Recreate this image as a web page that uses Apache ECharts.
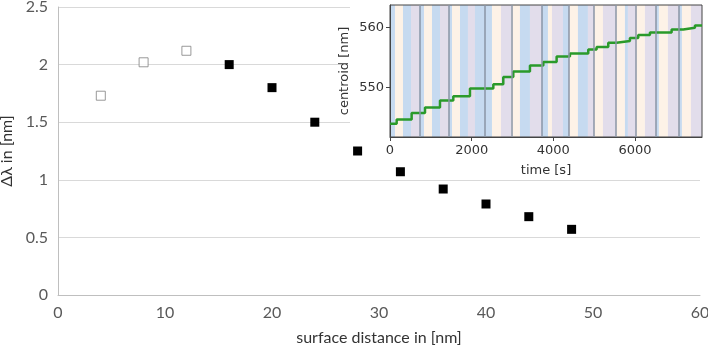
<!DOCTYPE html>
<html>
<head>
<meta charset="utf-8">
<script src="https://cdn.jsdelivr.net/npm/echarts@6/dist/echarts.min.js"></script>
<style>
  html, body { margin: 0; padding: 0; background: #fff; }
  #chart { width: 708px; height: 350px; }
</style>
</head>
<body>
<div id="chart"></div>
<script>
// main plot: shift vs distance
var openDist = [4, 8, 12];
var openShift = [1.73, 2.02, 2.12];
var fullDist = [16, 20, 24, 28, 32, 36, 40, 44, 48];
var fullShift = [2.0, 1.8, 1.5, 1.25, 1.07, 0.92, 0.79, 0.68, 0.57];

// inset: centroid over time (stepped)
var stepTime = [0, 163, 530, 857, 1224, 1550, 1958, 2530, 2774, 3019, 3427, 3754, 4080,
  4406, 4855, 5059, 5345, 5549, 5875, 6079, 6365, 6896, 7181, 7467, 7640];
var stepCentroid = [543.9, 544.6, 545.7, 546.6, 547.8, 548.5, 549.8, 550.5, 551.7, 552.6,
  553.6, 554.2, 555.1, 555.6, 556.3, 556.7, 557.4, 557.7, 558.2, 558.7, 559.1, 559.6,
  559.9, 560.3, 560.4];

// inset background bands (b = blue, p = peach, l = lavender)
var bandStart = [0, 122, 318, 514, 722, 832, 1028, 1224, 1444, 1518, 1714, 1909, 2081,
  2326, 2497, 2717, 2974, 3182, 3427, 3709, 3868, 3966, 4235, 4382, 4602, 4847, 4994,
  5215, 5532, 5753, 5826, 6022, 6242, 6512, 6585, 6805, 7075, 7149, 7369];
var bandEnd = [122, 318, 514, 722, 832, 1028, 1224, 1444, 1518, 1714, 1909, 2081, 2326,
  2497, 2717, 2974, 3182, 3427, 3709, 3868, 3966, 4235, 4382, 4602, 4847, 4994, 5215,
  5532, 5753, 5826, 6022, 6242, 6512, 6585, 6805, 7075, 7149, 7369, 7640];
var bandKind = ['b', 'p', 'b', 'l', 'b', 'p', 'b', 'l', 'b', 'p', 'b', 'l', 'b',
  'b', 'p', 'l', 'p', 'b', 'l', 'b', 'p', 'l', 'b', 'p', 'b', 'l', 'p',
  'l', 'p', 'b', 'l', 'p', 'l', 'b', 'p', 'l', 'b', 'p', 'l'];
var cycleLines = [722, 1444, 2326, 2974, 3709, 4382, 4994, 5532, 6022, 6512, 7075];

var xTicks = [0, 2000, 4000, 6000];
var yTicks = [550, 560];

var bandColors = { b: '#c6daf0', p: '#fdf2e7', l: '#e2ddeb' };

var chart = echarts.init(document.getElementById('chart'));

var bands = bandStart.map(function (s, i) {
  return [{ xAxis: s, itemStyle: { color: bandColors[bandKind[i]] } }, { xAxis: bandEnd[i] }];
});

var option = {
  animation: false,
  textStyle: { fontFamily: 'Lato' },
  graphic: [{
    type: 'rect', z: 1,
    shape: { x: 350, y: 0, width: 358, height: 176 },
    style: { fill: '#fff' }
  }],
  grid: [
    { left: 58, right: 8, top: 7, bottom: 55, outerBoundsMode: 'none' },
    { left: 390, top: 5, width: 312, height: 132, z: 3, outerBoundsMode: 'none',
      show: true, borderColor: '#444', borderWidth: 1, backgroundColor: 'transparent' }
  ],
  xAxis: [{
    gridIndex: 0, type: 'value', min: 0, max: 60, interval: 10,
    name: 'surface distance in [nm]', nameLocation: 'middle', nameGap: 35,
    nameTextStyle: { fontSize: 16, color: '#333' },
    axisLine: { lineStyle: { color: '#bfbfbf' } },
    axisTick: { show: false },
    axisLabel: { fontSize: 16, color: '#595959', margin: 10 },
    splitLine: { show: false }
  }, {
    gridIndex: 1, type: 'value', min: 0, max: 7640, z: 3,
    name: 'time [s]', nameLocation: 'middle', nameGap: 27,
    nameTextStyle: { fontFamily: 'DejaVu Sans', fontSize: 13, color: '#333' },
    axisLine: { lineStyle: { color: '#444' } },
    axisTick: { customValues: xTicks, length: 4, lineStyle: { color: '#444' } },
    axisLabel: { customValues: xTicks, fontFamily: 'DejaVu Sans', fontSize: 13, color: '#333', margin: 7,
      formatter: function (v) { return String(v); } },
    splitLine: { show: false }
  }],
  yAxis: [{
    gridIndex: 0, type: 'value', min: 0, max: 2.5, interval: 0.5,
    name: 'Δλ in [nm]', nameLocation: 'middle', nameGap: 43, nameMoveOverlap: false,
    nameTextStyle: { fontSize: 16, color: '#333' },
    axisLine: { show: true, lineStyle: { color: '#bfbfbf' } },
    axisTick: { show: false },
    axisLabel: { fontSize: 16, color: '#595959', margin: 10 },
    splitLine: { lineStyle: { color: '#d9d9d9' } }
  }, {
    gridIndex: 1, type: 'value', min: 541.7, max: 563.7, z: 3,
    name: 'centroid [nm]', nameLocation: 'middle', nameGap: 39,
    nameTextStyle: { fontFamily: 'DejaVu Sans', fontSize: 13, color: '#333',
      backgroundColor: '#fff', padding: [0, 2] },
    axisLine: { show: true, lineStyle: { color: '#444' } },
    axisTick: { customValues: yTicks, length: 4, lineStyle: { color: '#444' } },
    axisLabel: { customValues: yTicks, fontFamily: 'DejaVu Sans', fontSize: 13, color: '#333', margin: 6 },
    splitLine: { show: false }
  }],
  series: [{
    type: 'scatter', xAxisIndex: 0, yAxisIndex: 0, z: 2,
    symbol: 'rect', symbolSize: 9,
    itemStyle: { color: '#fff', borderColor: '#7f7f7f', borderWidth: 1 },
    data: openDist.map(function (d, i) { return [d, openShift[i]]; })
  }, {
    type: 'scatter', xAxisIndex: 0, yAxisIndex: 0, z: 2,
    symbol: 'rect', symbolSize: 9,
    itemStyle: { color: '#000', opacity: 1 },
    data: fullDist.map(function (d, i) { return [d, fullShift[i]]; })
  }, {
    type: 'line', xAxisIndex: 1, yAxisIndex: 1, z: 4,
    step: 'end', showSymbol: false,
    lineStyle: { color: '#2a9a2a', width: 2.5 },
    data: stepTime.map(function (t, i) { return [t, stepCentroid[i]]; }),
    markArea: { silent: true, data: bands },
    markLine: {
      silent: true, symbol: 'none', label: { show: false },
      lineStyle: { color: '#8a94a6', width: 1.5, type: 'solid' },
      data: cycleLines.map(function (t) { return { xAxis: t }; })
    }
  }]
};

chart.setOption(option);
</script>
</body>
</html>
